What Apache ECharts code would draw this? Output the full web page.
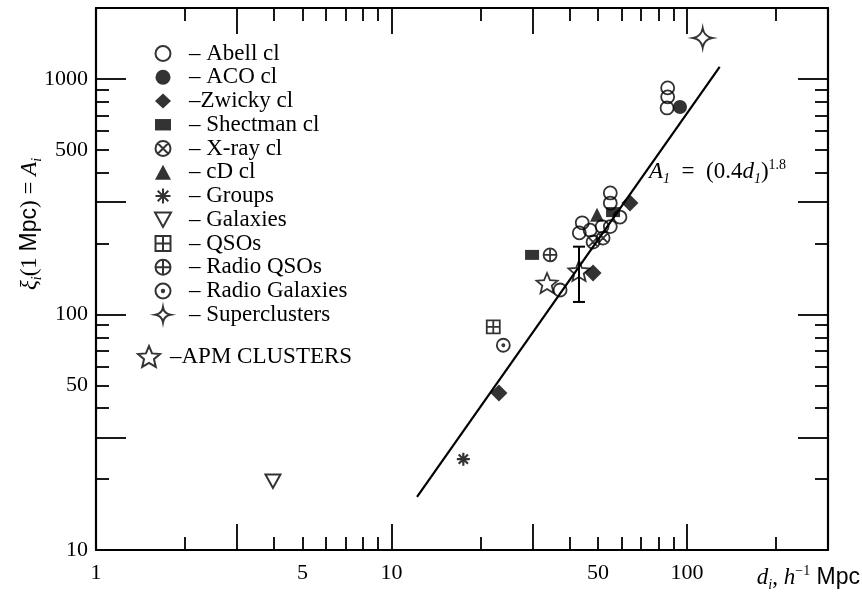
<!DOCTYPE html>
<html>
<head>
<meta charset="utf-8">
<script src="https://cdn.jsdelivr.net/npm/echarts@6/dist/echarts.min.js"></script>
<style>
  html, body { margin: 0; background: #fff; }
  #chart { width: 862px; height: 596px; }
</style>
</head>
<body>
<div id="chart"></div>
<script>
// Correlation amplitude A_i vs mean separation d_i (h^-1 Mpc).
const abell = [[86, 916], [86, 839], [85.6, 753], [55, 328], [55, 297], [59.3, 259],
  [44.2, 245], [43.2, 222], [47, 228], [51.6, 236], [55, 236], [37.2, 127]];
const aco = [[94.7, 760]];
const zwicky = [[64.1, 297], [48.1, 150], [23.1, 46.4]];
const shectman = [[29.9, 179], [56.2, 272]];
const xray = [[48.1, 203], [52, 211]];
const cd = [[49.6, 265]];
const groups = [[17.5, 24.3]];
const galaxies = [[3.97, 19.6]];
const qsos = [[22.1, 88.5]];
const radioQsos = [[34.4, 179]];
const radioGals = [[23.9, 74]];
const superclusters = [[113, 1493]];
const apm = [[33.6, 136], [43.1, 153]];
const apmErr = [[43.1, 113, 194]];     // x, low, high
const fitLine = [[12.2, 16.8], [129, 1125]];  // A_1 = (0.4 d_1)^1.8

const legendLabels = ['– Abell cl', '– ACO cl', '–Zwicky cl', '– Shectman cl', '– X-ray cl',
  '– cD cl', '– Groups', '– Galaxies', '– QSOs', '– Radio QSOs', '– Radio Galaxies', '– Superclusters'];
const apmLabel = '–APM CLUSTERS';

const xLongTicks = [3, 10, 30, 100];
const xShortTicks = [2, 4, 5, 6, 7, 8, 9, 20, 40, 50, 60, 70, 80, 90, 200];
const xLabels = [1, 5, 10, 50, 100];
const yLongTicks = [30, 100, 300, 1000];
const yShortTicks = [20, 40, 50, 60, 70, 80, 90, 200, 400, 500, 600, 700, 800, 900];
const yLabels = [10, 50, 100, 500, 1000];

const SERIF = 'Liberation Serif';
const RING = 'M10,0A10,10 0 1,1 9.99,0Z';
const SYM = {
  rect: 'path://M0,0L14,0L14,10L0,10Z',
  xray: 'path://' + RING + 'M2.93,2.93L17.07,17.07M17.07,2.93L2.93,17.07',
  radioQso: 'path://' + RING + 'M10,0L10,20M0,10L20,10',
  radioGal: 'path://' + RING + 'M10,8.4A1.6,1.6 0 1,1 9.99,8.4Z',
  qso: 'path://M0,0L20,0L20,20L0,20ZM10,0L10,20M0,10L20,10',
  galaxy: 'path://M0,0L20,0L10,18Z',
  group: 'path://M10,0L10,20M0,10L20,10M2.93,2.93L17.07,17.07M17.07,2.93L2.93,17.07',
  super: 'path://M10,0Q11.5,8.5 20,10Q11.5,11.5 10,20Q8.5,11.5 0,10Q8.5,8.5 10,0Z',
  star: 'path://M10,0L12.65,6.36L19.51,6.91L14.28,11.39L15.88,18.09L10,14.5L4.12,18.09L5.72,11.39L0.49,6.91L7.35,6.36Z'
};

const open = (bw) => ({ color: 'rgba(255,255,255,0)', borderColor: '#000', borderWidth: bw });
const solid = { color: '#000' };

function pts(name, data, symbol, size, itemStyle) {
  return {
    type: 'scatter', name, data, symbol, symbolSize: size, symbolKeepAspect: true,
    itemStyle, silent: true, z: 3
  };
}

const series = [
  pts(legendLabels[0], abell, 'circle', 13, open(1.8)),
  pts(legendLabels[1], aco, 'circle', 14, solid),
  pts(legendLabels[2], zwicky, 'diamond', 17, solid),
  pts(legendLabels[3], shectman, SYM.rect, 14, solid),
  pts(legendLabels[4], xray, SYM.xray, 13, open(1.8)),
  pts(legendLabels[5], cd, 'triangle', 14, solid),
  pts(legendLabels[6], groups, SYM.group, 13, { color: '#000', borderColor: '#000', borderWidth: 2.2 }),
  pts(legendLabels[7], galaxies, SYM.galaxy, 15, open(2)),
  pts(legendLabels[8], qsos, SYM.qso, 13, open(1.8)),
  pts(legendLabels[9], radioQsos, SYM.radioQso, 13, open(1.8)),
  pts(legendLabels[10], radioGals, SYM.radioGal, 13, open(1.8)),
  pts(legendLabels[11], superclusters, SYM.super, 19, open(2)),
  pts(apmLabel, apm, SYM.star, 21, open(1.8)),
  {
    type: 'custom', data: apmErr, silent: true, z: 2,
    renderItem(params, api) {
      const lo = api.coord([api.value(0), api.value(1)]);
      const hi = api.coord([api.value(0), api.value(2)]);
      const st = { stroke: '#000', lineWidth: 2 };
      return { type: 'group', children: [
        { type: 'line', shape: { x1: lo[0], y1: lo[1], x2: hi[0], y2: hi[1] }, style: st },
        { type: 'line', shape: { x1: lo[0] - 6, y1: lo[1], x2: lo[0] + 6, y2: lo[1] }, style: st },
        { type: 'line', shape: { x1: hi[0] - 6, y1: hi[1], x2: hi[0] + 6, y2: hi[1] }, style: st }
      ]};
    }
  },
  {
    type: 'line', data: fitLine, symbol: 'none', silent: true, z: 1,
    lineStyle: { color: '#000', width: 2.2 }
  }
];

function axis(min, max, position, ticks, len, withLine, labels, margin) {
  return {
    type: 'log', logBase: 10, min, max, position,
    axisLine: { show: withLine, onZero: false, lineStyle: { color: '#000', width: 2.2 } },
    axisTick: { show: true, inside: true, length: len, customValues: ticks,
      lineStyle: { color: '#000', width: 1.8 } },
    axisLabel: labels ? {
      show: true, customValues: labels, formatter: (v) => String(Math.round(v)),
      color: '#000', fontFamily: SERIF, fontSize: 22, margin
    } : { show: false },
    splitLine: { show: false }, minorTick: { show: false }, minorSplitLine: { show: false }
  };
}

const chart = echarts.init(document.getElementById('chart'));
const legendText = { fontFamily: SERIF, fontSize: 23, color: '#000', lineHeight: 22 };
const rich = {
  rm: { fontFamily: SERIF, fontSize: 23, lineHeight: 28, fill: '#000' },
  it: { fontFamily: SERIF, fontSize: 23, fontStyle: 'italic', lineHeight: 28, fill: '#000' },
  sf: { fontFamily: 'Liberation Sans', fontSize: 23, lineHeight: 28, fill: '#000' },
  sub: { fontFamily: SERIF, fontSize: 14, fontStyle: 'italic', lineHeight: 13, verticalAlign: 'bottom', fill: '#000' },
  sup: { fontFamily: SERIF, fontSize: 14, lineHeight: 13, verticalAlign: 'top', fill: '#000' }
};

chart.setOption({
  animation: false,
  backgroundColor: '#fff',
  grid: { left: 96, right: 34, top: 8, bottom: 46 },
  xAxis: [
    axis(1, 300, 'bottom', xLongTicks, 26, true, xLabels, 12),
    axis(1, 300, 'bottom', xShortTicks, 13, false, null),
    axis(1, 300, 'top', xLongTicks, 26, true, null),
    axis(1, 300, 'top', xShortTicks, 13, false, null)
  ],
  yAxis: [
    axis(10, 2000, 'left', yLongTicks, 30, true, yLabels, 8),
    axis(10, 2000, 'left', yShortTicks, 13, false, null),
    axis(10, 2000, 'right', yLongTicks, 30, true, null),
    axis(10, 2000, 'right', yShortTicks, 13, false, null)
  ],
  legend: [{
    data: legendLabels, orient: 'vertical', left: 149, top: 37,
    itemWidth: 16, itemHeight: 15, itemGap: 0.75, selectedMode: false,
    textStyle: Object.assign({ padding: [0, 0, 0, 13] }, legendText)
  }, {
    data: [apmLabel], orient: 'vertical', left: 132, top: 340,
    itemWidth: 22, itemHeight: 21, selectedMode: false,
    textStyle: Object.assign({ padding: [0, 0, 0, 5] }, legendText)
  }],
  graphic: [
    { type: 'text', x: 30, y: 224, rotation: Math.PI / 2, silent: true,
      style: { text: '{it|ξ}{sub|i}{rm|(1 }{sf|Mpc}{rm|) = }{it|A}{sub|i}', rich, align: 'center', verticalAlign: 'middle' } },
    { type: 'text', x: 860, y: 578, silent: true,
      style: { text: '{it|d}{sub|i}{rm|, }{it|h}{sup|−1}{sf| Mpc}', rich, align: 'right', verticalAlign: 'middle' } },
    { type: 'text', x: 649, y: 172, silent: true,
      style: { text: '{it|A}{sub|1}{rm|  =  (0.4}{it|d}{sub|1}{rm|)}{sup|1.8}', rich, align: 'left', verticalAlign: 'middle' } }
  ],
  series
});
</script>
</body>
</html>
